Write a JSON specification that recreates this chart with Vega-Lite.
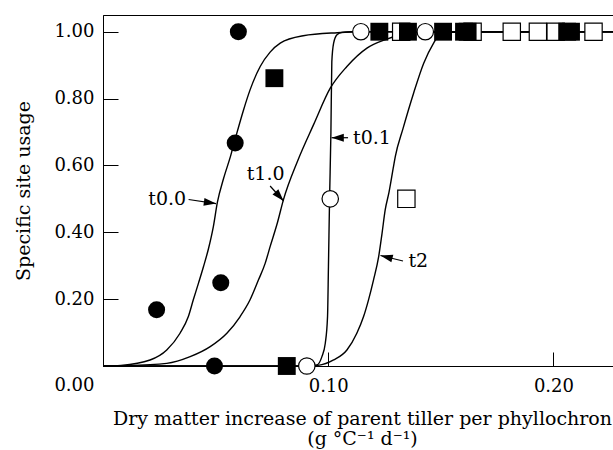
{
  "$schema": "https://vega.github.io/schema/vega-lite/v6.json",
  "autosize": "none",
  "width": 518,
  "height": 351,
  "padding": {"left": 103, "top": 15, "right": 0, "bottom": 84},
  "config": {
    "view": {"stroke": "#000", "strokeWidth": 1},
    "font": "DejaVu Serif",
    "axis": {"grid": false, "domainColor": "#000", "tickColor": "#000", "labelColor": "#000", "titleColor": "#000", "labelFont": "DejaVu Serif", "titleFont": "DejaVu Serif", "labelFontSize": 18, "titleFontSize": 19, "titleFontWeight": "normal", "domainWidth": 1, "tickWidth": 1}
  },
  "datasets": {
    "curves": [
      {"curve": "t0.0", "x": 0, "y": 0}, {"curve": "t0.0", "x": 0.008, "y": 0.002}, {"curve": "t0.0", "x": 0.0209, "y": 0.018}, {"curve": "t0.0", "x": 0.0283, "y": 0.048}, {"curve": "t0.0", "x": 0.0342, "y": 0.098}, {"curve": "t0.0", "x": 0.0379, "y": 0.148}, {"curve": "t0.0", "x": 0.0401, "y": 0.198}, {"curve": "t0.0", "x": 0.0424, "y": 0.248}, {"curve": "t0.0", "x": 0.0446, "y": 0.297}, {"curve": "t0.0", "x": 0.0468, "y": 0.35}, {"curve": "t0.0", "x": 0.049, "y": 0.417}, {"curve": "t0.0", "x": 0.0508, "y": 0.49}, {"curve": "t0.0", "x": 0.0535, "y": 0.56}, {"curve": "t0.0", "x": 0.0566, "y": 0.627}, {"curve": "t0.0", "x": 0.0594, "y": 0.696}, {"curve": "t0.0", "x": 0.0624, "y": 0.766}, {"curve": "t0.0", "x": 0.0653, "y": 0.826}, {"curve": "t0.0", "x": 0.0698, "y": 0.896}, {"curve": "t0.0", "x": 0.0742, "y": 0.939}, {"curve": "t0.0", "x": 0.0787, "y": 0.966}, {"curve": "t0.0", "x": 0.0889, "y": 0.988}, {"curve": "t0.0", "x": 0.104, "y": 0.997}, {"curve": "t0.0", "x": 0.115, "y": 1.0}, {"curve": "t0.0", "x": 0.23, "y": 1.0},
      {"curve": "t1.0", "x": 0, "y": 0}, {"curve": "t1.0", "x": 0.01, "y": 0.001}, {"curve": "t1.0", "x": 0.0283, "y": 0.008}, {"curve": "t1.0", "x": 0.0387, "y": 0.028}, {"curve": "t1.0", "x": 0.0476, "y": 0.058}, {"curve": "t1.0", "x": 0.055, "y": 0.098}, {"curve": "t1.0", "x": 0.0609, "y": 0.148}, {"curve": "t1.0", "x": 0.0653, "y": 0.198}, {"curve": "t1.0", "x": 0.069, "y": 0.257}, {"curve": "t1.0", "x": 0.072, "y": 0.307}, {"curve": "t1.0", "x": 0.0742, "y": 0.357}, {"curve": "t1.0", "x": 0.0775, "y": 0.43}, {"curve": "t1.0", "x": 0.0801, "y": 0.497}, {"curve": "t1.0", "x": 0.0865, "y": 0.615}, {"curve": "t1.0", "x": 0.0935, "y": 0.722}, {"curve": "t1.0", "x": 0.1009, "y": 0.831}, {"curve": "t1.0", "x": 0.1083, "y": 0.896}, {"curve": "t1.0", "x": 0.1172, "y": 0.951}, {"curve": "t1.0", "x": 0.126, "y": 0.978}, {"curve": "t1.0", "x": 0.1305, "y": 0.988}, {"curve": "t1.0", "x": 0.14, "y": 0.998}, {"curve": "t1.0", "x": 0.23, "y": 1.0},
      {"curve": "t0.1", "x": 0, "y": 0}, {"curve": "t0.1", "x": 0.09, "y": 0}, {"curve": "t0.1", "x": 0.095, "y": 0.003}, {"curve": "t0.1", "x": 0.0972, "y": 0.028}, {"curve": "t0.1", "x": 0.0987, "y": 0.068}, {"curve": "t0.1", "x": 0.0997, "y": 0.148}, {"curve": "t0.1", "x": 0.1001, "y": 0.297}, {"curve": "t0.1", "x": 0.1006, "y": 0.5}, {"curve": "t0.1", "x": 0.1012, "y": 0.7}, {"curve": "t0.1", "x": 0.1016, "y": 0.91}, {"curve": "t0.1", "x": 0.1024, "y": 0.966}, {"curve": "t0.1", "x": 0.1039, "y": 0.991}, {"curve": "t0.1", "x": 0.1061, "y": 0.998}, {"curve": "t0.1", "x": 0.11, "y": 1.0}, {"curve": "t0.1", "x": 0.23, "y": 1.0},
      {"curve": "t2", "x": 0, "y": 0}, {"curve": "t2", "x": 0.09, "y": 0}, {"curve": "t2", "x": 0.0955, "y": 0.002}, {"curve": "t2", "x": 0.1024, "y": 0.018}, {"curve": "t2", "x": 0.1083, "y": 0.048}, {"curve": "t2", "x": 0.1127, "y": 0.098}, {"curve": "t2", "x": 0.1157, "y": 0.148}, {"curve": "t2", "x": 0.1179, "y": 0.198}, {"curve": "t2", "x": 0.1201, "y": 0.257}, {"curve": "t2", "x": 0.1224, "y": 0.327}, {"curve": "t2", "x": 0.1239, "y": 0.397}, {"curve": "t2", "x": 0.1253, "y": 0.467}, {"curve": "t2", "x": 0.127, "y": 0.52}, {"curve": "t2", "x": 0.129, "y": 0.597}, {"curve": "t2", "x": 0.1298, "y": 0.627}, {"curve": "t2", "x": 0.1332, "y": 0.71}, {"curve": "t2", "x": 0.1379, "y": 0.816}, {"curve": "t2", "x": 0.1424, "y": 0.906}, {"curve": "t2", "x": 0.1468, "y": 0.966}, {"curve": "t2", "x": 0.149, "y": 0.988}, {"curve": "t2", "x": 0.155, "y": 0.998}, {"curve": "t2", "x": 0.16, "y": 1.0}, {"curve": "t2", "x": 0.23, "y": 1.0}
    ],
    "points": [
      {"group": "t0.0", "x": 0.0238, "y": 0.168}, {"group": "t0.0", "x": 0.0495, "y": 0}, {"group": "t0.0", "x": 0.0523, "y": 0.249}, {"group": "t0.0", "x": 0.0587, "y": 0.667}, {"group": "t0.0", "x": 0.0601, "y": 1.0},
      {"group": "t0.1", "x": 0.0905, "y": 0}, {"group": "t0.1", "x": 0.1009, "y": 0.5}, {"group": "t0.1", "x": 0.1145, "y": 1.0}, {"group": "t0.1", "x": 0.1431, "y": 1.0},
      {"group": "t1.0", "x": 0.0761, "y": 0.861}, {"group": "t1.0", "x": 0.0816, "y": 0}, {"group": "t1.0", "x": 0.1227, "y": 1.0}, {"group": "t1.0", "x": 0.1354, "y": 1.0}, {"group": "t1.0", "x": 0.151, "y": 1.0}, {"group": "t1.0", "x": 0.1603, "y": 1.0}, {"group": "t1.0", "x": 0.1619, "y": 1.0}, {"group": "t1.0", "x": 0.2061, "y": 1.0}, {"group": "t1.0", "x": 0.2078, "y": 1.0},
      {"group": "t2", "x": 0.1347, "y": 0.5}, {"group": "t2", "x": 0.1324, "y": 1.0}, {"group": "t2", "x": 0.1641, "y": 1.0}, {"group": "t2", "x": 0.1815, "y": 1.0}, {"group": "t2", "x": 0.1931, "y": 1.0}, {"group": "t2", "x": 0.201, "y": 1.0}, {"group": "t2", "x": 0.2178, "y": 1.0}
    ],
    "labels": [
      {"label": "t0.0", "x": 0.0201, "y": 0.4995},
      {"label": "t1.0", "x": 0.0638, "y": 0.5758},
      {"label": "t0.1", "x": 0.111, "y": 0.6835},
      {"label": "t2", "x": 0.1356, "y": 0.314}
    ],
    "arrows": [
      {"arrow": "t0.0", "x": 0.038, "y": 0.498, "x2": 0.0502, "y2": 0.486},
      {"arrow": "t1.0", "x": 0.0742, "y": 0.5384, "x2": 0.0802, "y2": 0.4936},
      {"arrow": "t0.1", "x": 0.1088, "y": 0.6829, "x2": 0.1015, "y2": 0.6829},
      {"arrow": "t2", "x": 0.1332, "y": 0.3141, "x2": 0.1232, "y2": 0.3305}
    ]
  },
  "encoding": {
    "x": {"field": "x", "type": "quantitative", "scale": {"domain": [0, 0.23], "nice": false, "zero": false},
      "axis": {"values": [0.1, 0.2], "format": ".2f", "tickSize": -14, "labelPadding": 25, "labelBaseline": "top", "title": ["Dry matter increase of parent tiller per phyllochron", "(g °C⁻¹ d⁻¹)"], "titlePadding": 14, "titleLineHeight": 20, "labelFlush": false}},
    "y": {"field": "y", "type": "quantitative", "scale": {"domain": [0, 1.05], "nice": false, "zero": false},
      "axis": {"values": [0, 0.2, 0.4, 0.6, 0.8, 1.0], "format": ".2f", "tickSize": -15, "labelPadding": 24, "labelOffset": {"condition": {"test": "datum.value === 0", "value": 19}, "value": 0}, "title": "Specific site usage", "titlePadding": 20, "labelFlush": false}}
  },
  "layer": [
    {"data": {"name": "curves"}, "mark": {"type": "line", "interpolate": "monotone", "color": "#000", "strokeWidth": 1.4}, "encoding": {"detail": {"field": "curve"}}},
    {"data": {"name": "arrows"}, "mark": {"type": "rule", "color": "#000", "strokeWidth": 1.2}, "encoding": {"x2": {"field": "x2"}, "y2": {"field": "y2"}}},
    {"data": {"name": "arrows"}, "transform": [{"filter": "datum.arrow === 't0.0'"}], "mark": {"type": "point", "shape": "M0,0L-1,-0.32L-1,0.32Z", "filled": true, "color": "#000", "size": 600, "angle": 8, "opacity": 1}, "encoding": {"x": {"field": "x2", "type": "quantitative"}, "y": {"field": "y2", "type": "quantitative"}}},
    {"data": {"name": "arrows"}, "transform": [{"filter": "datum.arrow === 't1.0'"}], "mark": {"type": "point", "shape": "M0,0L-1,-0.32L-1,0.32Z", "filled": true, "color": "#000", "size": 600, "angle": 48, "opacity": 1}, "encoding": {"x": {"field": "x2", "type": "quantitative"}, "y": {"field": "y2", "type": "quantitative"}}},
    {"data": {"name": "arrows"}, "transform": [{"filter": "datum.arrow === 't0.1'"}], "mark": {"type": "point", "shape": "M0,0L-1,-0.32L-1,0.32Z", "filled": true, "color": "#000", "size": 600, "angle": 180, "opacity": 1}, "encoding": {"x": {"field": "x2", "type": "quantitative"}, "y": {"field": "y2", "type": "quantitative"}}},
    {"data": {"name": "arrows"}, "transform": [{"filter": "datum.arrow === 't2'"}], "mark": {"type": "point", "shape": "M0,0L-1,-0.32L-1,0.32Z", "filled": true, "color": "#000", "size": 600, "angle": 194, "opacity": 1}, "encoding": {"x": {"field": "x2", "type": "quantitative"}, "y": {"field": "y2", "type": "quantitative"}}},
    {"data": {"name": "labels"}, "mark": {"type": "text", "align": "left", "baseline": "middle", "font": "DejaVu Serif", "fontSize": 19, "color": "#000"}, "encoding": {"text": {"field": "label"}}},
    {"data": {"name": "points"}, "transform": [{"filter": "datum.group === 't2'"}], "mark": {"type": "point", "shape": "square", "filled": true, "fill": "#fff", "stroke": "#000", "strokeWidth": 1.2, "size": 300, "opacity": 1}},
    {"data": {"name": "points"}, "transform": [{"filter": "datum.group === 't1.0'"}], "mark": {"type": "point", "shape": "square", "filled": true, "color": "#000", "size": 320, "opacity": 1}},
    {"data": {"name": "points"}, "transform": [{"filter": "datum.group === 't0.1'"}], "mark": {"type": "point", "shape": "circle", "filled": true, "fill": "#fff", "stroke": "#000", "strokeWidth": 1.2, "size": 270, "opacity": 1}},
    {"data": {"name": "points"}, "transform": [{"filter": "datum.group === 't0.0'"}], "mark": {"type": "point", "shape": "circle", "filled": true, "color": "#000", "size": 290, "opacity": 1}}
  ]
}
